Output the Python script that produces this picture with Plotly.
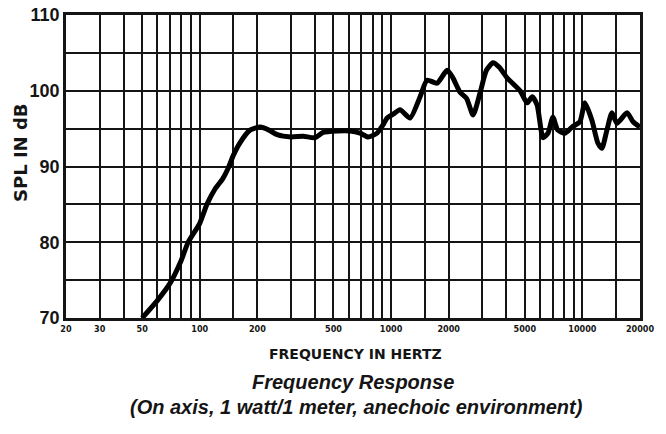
import plotly.graph_objects as go

freq_hz = [50, 60, 70, 80, 87, 100, 109, 120, 132, 141, 150, 162, 183, 207, 230, 254,
           300, 347, 400, 441, 522, 610, 689, 759, 845, 908, 953, 1024, 1114, 1257,
           1418, 1542, 1739, 1962, 2095, 2294, 2480, 2684, 2917, 3150, 3413, 3680,
           4040, 4723, 5140, 5470, 5800, 6230, 6610, 7010, 7440, 8110, 8820, 9700,
           10300, 11210, 12040, 12640, 13430, 14270, 15160, 17100, 18400, 20000]
spl_db = [70, 72.3, 74.6, 77.6, 80, 82.5, 85, 87, 88.4, 89.8, 91.5, 93.1, 94.8, 95.2, 94.8, 94.2,
          93.9, 94.0, 93.8, 94.5, 94.7, 94.7, 94.4, 93.9, 94.4, 95.5, 96.4, 96.9, 97.5, 96.4,
          99.2, 101.4, 101.0, 102.7, 101.8, 99.8, 99.0, 96.8, 99.7, 102.7, 103.7, 103.1,
          101.7, 100.0, 98.4, 99.2, 98.1, 93.8, 94.4, 96.5, 94.8, 94.4, 95.2, 95.9,
          98.4, 96.1, 93.1, 92.4, 94.8, 97.1, 95.7, 97.1, 95.9, 95.2]

x_tick_vals = [20, 30, 50, 100, 200, 500, 1000, 2000, 5000, 10000, 20000]
x_tick_text = ["20", "30", "50", "100", "200", "500", "1000", "2000", "5000", "10000", "20000"]
x_grid_vals = [40, 60, 70, 80, 90, 150, 300, 400, 600, 700, 800, 900, 1500,
               3000, 4000, 6000, 7000, 8000, 9000, 15000]
y_tick_vals = [70, 80, 90, 100, 110]

L, R, T, B = 66, 26, 15, 116
W, H = 666, 434

fig = go.Figure()
fig.add_trace(go.Scatter(x=freq_hz, y=spl_db, mode="lines",
                         line=dict(color="black", width=5, shape="spline", smoothing=0.6),
                         showlegend=False, hoverinfo="skip"))

grid_col = "#151515"
fig.update_layout(
    width=W, height=H,
    margin=dict(l=L, r=R, t=T, b=B),
    paper_bgcolor="white", plot_bgcolor="white",
    font=dict(family="Liberation Sans, Arial, sans-serif", color="#151515"),
    xaxis=dict(
        type="log", range=[1.30103, 4.30103], automargin=False,
        tickmode="array", tickvals=x_tick_vals, ticktext=x_tick_text,
        tickfont=dict(size=9, family="DejaVu Sans Condensed, Liberation Sans, sans-serif",
                      weight="bold", color="#151515"),
        ticks="", ticklen=0,
        showgrid=True, gridcolor=grid_col, gridwidth=2,
        minor=dict(tickmode="array", tickvals=x_grid_vals, showgrid=True,
                   gridcolor=grid_col, gridwidth=2, ticks=""),
        showline=True, linecolor=grid_col, linewidth=2.5, mirror=True,
        zeroline=False,
    ),
    yaxis=dict(
        range=[70, 110], tickmode="array", tickvals=y_tick_vals, automargin=False,
        tickfont=dict(size=18, weight="bold", color="#151515"),
        ticks="", ticklen=0,
        showgrid=True, gridcolor=grid_col, gridwidth=2,
        minor=dict(dtick=5, showgrid=True, gridcolor=grid_col, gridwidth=2, ticks=""),
        showline=True, linecolor=grid_col, linewidth=2.5, mirror=True,
        zeroline=False,
    ),
)

def px(x, y):
    return (x - L) / (W - L - R), 1 - (y - T) / (H - T - B)

notes = [
    ("SPL IN dB", 20, 153, -90, dict(size=18, family="DejaVu Sans, sans-serif", weight="bold")),
    ("FREQUENCY IN HERTZ", 355, 354, 0, dict(size=14, family="DejaVu Sans, sans-serif", weight="bold")),
    ("Frequency Response", 353, 382, 0, dict(size=20, weight="bold", style="italic")),
    ("(On axis, 1 watt/1 meter, anechoic environment)", 356, 407, 0,
     dict(size=20, weight="bold", style="italic")),
]
for text, x, y, ang, f in notes:
    ax, ay = px(x, y)
    fig.add_annotation(text=text, x=ax, y=ay, xref="paper", yref="paper", textangle=ang,
                       showarrow=False, xanchor="center", yanchor="middle", font=f)

fig.write_html("out.html", config={"displayModeBar": False},
               post_script="document.body.style.margin='0';document.body.style.overflow='hidden';")
